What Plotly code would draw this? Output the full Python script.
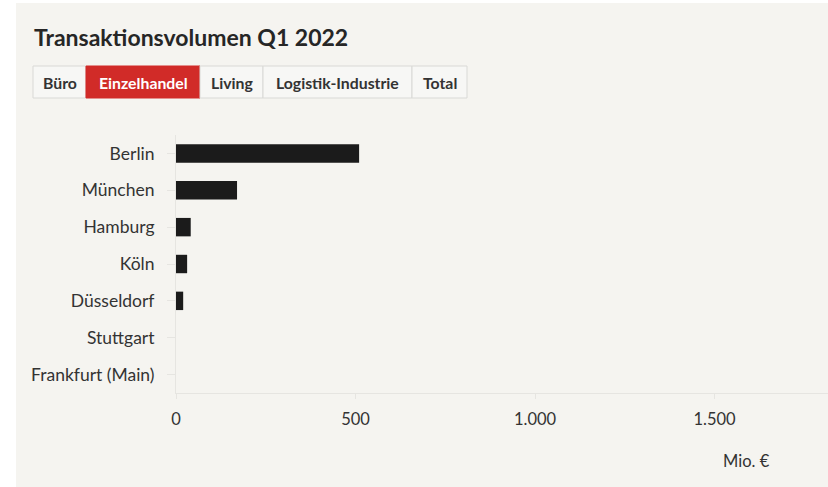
import plotly.graph_objects as go

# Transaction volume Q1 2022, retail segment (Mio. €)
cities = ["Berlin", "München", "Hamburg", "Köln", "Düsseldorf", "Stuttgart", "Frankfurt (Main)"]
volumes = [510, 170, 41, 31, 20, 0, 0]

segments = ["Büro", "Einzelhandel", "Living", "Logistik-Industrie", "Total"]
active_segment = "Einzelhandel"

title_text = "Transaktionsvolumen Q1 2022"
unit_text = "Mio. €"
x_ticks = [0, 500, 1000, 1500]

# page geometry (pixels)
W, H = 828, 487
M_L, M_R, M_T, M_B = 176, 0, 135, 94
PW, PH = W - M_L - M_R, H - M_T - M_B

PANEL = "#f5f4f0"
RED = "#d12b28"
FONT = "Lato, 'Source Sans Pro', 'Noto Sans', sans-serif"


def px_x(px):
    return (px - M_L) / PW


def px_y(py):
    return (H - M_B - py) / PH


fig = go.Figure(
    go.Bar(
        x=volumes,
        y=cities,
        orientation="h",
        marker=dict(color="#1b1b1b", line=dict(width=0)),
        hovertemplate="%{y}: %{x:,.0f} Mio. €<extra></extra>",
    )
)

shapes = [
    # white page edge around the beige panel
    dict(type="rect", xref="paper", yref="paper", x0=px_x(-2), x1=px_x(16),
         y0=px_y(H + 2), y1=px_y(-2), fillcolor="white", line=dict(width=0), layer="below"),
    dict(type="rect", xref="paper", yref="paper", x0=px_x(-2), x1=px_x(W + 2),
         y0=px_y(3), y1=px_y(-2), fillcolor="white", line=dict(width=0), layer="below"),
]
annotations = [
    dict(text=f"<b>{title_text}</b>", xref="paper", yref="paper", x=px_x(32), y=px_y(37),
         xanchor="left", yanchor="middle", showarrow=False,
         font=dict(family=FONT, size=23, color="#262626")),
    dict(text=unit_text, xref="paper", yref="paper", x=px_x(772), y=px_y(461),
         xanchor="right", yanchor="middle", showarrow=False,
         font=dict(family=FONT, size=16.5, color="#333333")),
]

# segment switcher row
btn_edges = [33, 86, 200, 263, 412, 467]
btn_top, btn_bottom = 66, 98
for i, seg in enumerate(segments):
    x0, x1 = btn_edges[i], btn_edges[i + 1]
    on = seg == active_segment
    shapes.append(dict(
        type="rect", xref="paper", yref="paper",
        x0=px_x(x0), x1=px_x(x1), y0=px_y(btn_bottom), y1=px_y(btn_top),
        fillcolor=RED if on else "#f7f7f5",
        line=dict(color=RED if on else "#d9d9d6", width=1),
    ))
    annotations.append(dict(
        text=f"<b>{seg}</b>", xref="paper", yref="paper",
        x=px_x((x0 + x1) / 2), y=px_y((btn_top + btn_bottom) / 2),
        xanchor="center", yanchor="middle", showarrow=False,
        font=dict(family=FONT, size=15.8, color="white" if on else "#333333"),
    ))

fig.update_layout(
    width=W, height=H,
    margin=dict(l=M_L, r=M_R, t=M_T, b=M_B, pad=0),
    paper_bgcolor=PANEL, plot_bgcolor=PANEL,
    separators=",.",
    bargap=0.5,
    showlegend=False,
    font=dict(family=FONT, size=17, color="#333333"),
    shapes=shapes,
    annotations=annotations,
    xaxis=dict(
        range=[0, 1816], tickvals=x_ticks, tickformat=",.0f",
        showgrid=False, zeroline=False,
        showline=True, linecolor="#e6e5e1", linewidth=1,
        ticks="outside", ticklen=5, tickcolor="#e6e5e1",
        tickfont=dict(size=16.5, color="#333333"), ticklabelstandoff=6,
        fixedrange=True,
    ),
    yaxis=dict(
        categoryorder="array", categoryarray=cities, autorange="reversed",
        showgrid=False, zeroline=False,
        showline=True, linecolor="#e6e5e1", linewidth=1,
        ticks="outside", ticklen=8, tickcolor="#e6e5e1",
        tickfont=dict(size=17.5, color="#333333"), ticklabelstandoff=9,
        fixedrange=True,
    ),
)

fig.write_html("out.html", config={"displayModeBar": False})
